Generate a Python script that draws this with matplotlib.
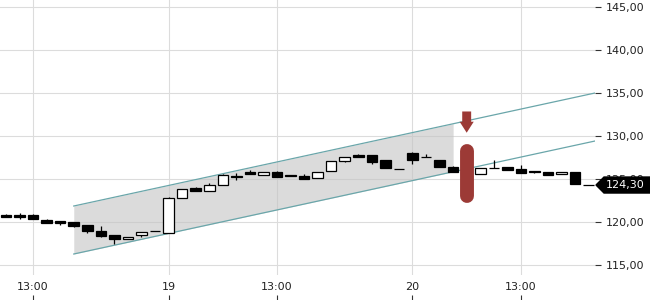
import matplotlib
matplotlib.use("Agg")
import matplotlib.pyplot as plt
from matplotlib.patches import Polygon
import numpy as np

# ---- data ----
opens = [120.85, 120.8, 120.85, 120.2, 120.1, 119.95, 119.65, 118.95, 118.5, 118.0,
         118.5, 118.9, 118.7, 122.75, 124.0, 123.6, 124.3, 125.4, 125.85, 125.5,
         125.8, 125.5, 125.4, 125.1, 125.95, 127.1, 127.75, 127.8, 127.2, 126.15,
         128.0, 127.55, 127.2, 126.4, 125.85, 125.6, 126.25, 126.4, 126.15, 125.95,
         125.8, 125.55, 125.8, 124.3]
highs = [120.9, 121.0, 120.9, 120.35, 120.1, 119.95, 119.65, 119.5, 118.5, 118.25,
         118.8, 118.9, 122.85, 123.85, 124.1, 124.57, 125.6, 125.65, 126.05, 125.8,
         125.9, 125.5, 125.55, 125.8, 127.1, 127.5, 127.9, 127.8, 127.2, 126.15,
         128.1, 127.85, 127.2, 126.5, 125.85, 126.25, 127.25, 126.4, 126.65, 125.95,
         125.8, 125.8, 125.8, 124.3]
lows = [120.55, 120.4, 120.3, 119.9, 119.7, 119.45, 118.75, 118.2, 117.4, 118.0,
        118.3, 118.9, 118.7, 122.75, 123.55, 123.6, 124.3, 124.9, 125.55, 125.5,
        125.2, 125.35, 125.0, 125.1, 125.95, 126.95, 127.6, 126.75, 126.25, 126.15,
        126.8, 127.5, 126.4, 125.8, 125.45, 125.6, 126.25, 126.1, 125.75, 125.75,
        125.45, 125.55, 124.4, 124.3]
closes = [120.6, 120.6, 120.3, 119.9, 119.9, 119.55, 118.9, 118.4, 118.0, 118.25,
          118.8, 118.9, 122.75, 123.85, 123.6, 124.3, 125.45, 125.2, 125.55, 125.8,
          125.2, 125.35, 125.0, 125.8, 127.1, 127.5, 127.6, 127.0, 126.25, 126.15,
          127.2, 127.5, 126.4, 125.8, 125.45, 126.25, 126.25, 126.1, 125.75, 125.85,
          125.45, 125.8, 124.4, 124.3]

xtick_pos = [2, 12, 20, 30, 38]
xtick_labels = ["13:00", "19", "13:00", "20", "13:00"]
ytick_vals = [115, 120, 125, 130, 135, 140, 145]

# trend channel
channel_start = 5
channel_fill_end = 33
channel_upper_start = 121.86
channel_lower_start = 116.28
channel_slope = 0.3415

# signal marker
signal_idx = 34
signal_bar = [128.25, 122.98]
arrow_levels = [132.85, 131.66, 130.38]  # shaft top, head base, tip

last_price = 124.30

# ---- figure ----
W, H = 650, 300
fig = plt.figure(figsize=(6.5, 3.0), dpi=100)
ax = fig.add_axes([0, 25 / H, 595 / W, 275 / H])
xlim = (-0.443, 43.47)
ax.set_xlim(*xlim)
ax.set_ylim(113.84, 145.81)

for s in ax.spines.values():
    s.set_visible(False)

ax.grid(True, color="#dcdcdc", lw=0.8, zorder=0)
ax.set_axisbelow(True)

# channel
xs = np.array([channel_start, xlim[1]])
up = channel_upper_start + channel_slope * (xs - channel_start)
lo = channel_lower_start + channel_slope * (xs - channel_start)
xf = np.array([channel_start, channel_fill_end])
ax.fill_between(xf, channel_upper_start + channel_slope * (xf - channel_start),
                channel_lower_start + channel_slope * (xf - channel_start),
                color="#c4c4c4", alpha=0.6, lw=0, zorder=1)
ax.plot(xs, up, color="#6aa6aa", lw=0.9, zorder=2)
ax.plot(xs, lo, color="#6aa6aa", lw=0.9, zorder=2)

# candles
x = np.arange(len(opens))
o = np.array(opens); c = np.array(closes)
hi = np.array(highs); lw_ = np.array(lows)
ax.vlines(x, lw_, hi, color="black", lw=0.9, zorder=3)
upc = c >= o
ax.bar(x[upc], (c - o)[upc], bottom=o[upc], width=0.78, color="white",
       edgecolor="black", lw=0.9, zorder=4)
ax.bar(x[~upc], (c - o)[~upc], bottom=o[~upc], width=0.78, color="black",
       edgecolor="black", lw=0.9, zorder=4)

# signal marker
red = "#9c3a36"
ax.plot([signal_idx, signal_idx], signal_bar, color=red, lw=10,
        solid_capstyle="round", zorder=5)
sw, hw = 0.33, 0.52
st, hb, tip = arrow_levels
arrow = Polygon([(signal_idx - sw, st), (signal_idx + sw, st), (signal_idx + sw, hb),
                 (signal_idx + hw, hb), (signal_idx, tip), (signal_idx - hw, hb),
                 (signal_idx - sw, hb)], closed=True, color=red, lw=0, zorder=5)
ax.add_patch(arrow)

# axes ticks
ax.set_xticks(xtick_pos)
ax.set_xticklabels(xtick_labels)
ax.tick_params(axis="x", length=0, pad=5, labelsize=8, labelcolor="#222222")
ax.yaxis.tick_right()
ax.set_yticks(ytick_vals)
ax.set_yticklabels([f"{v:.2f}".replace(".", ",") for v in ytick_vals])
ax.tick_params(axis="y", direction="out", length=4, width=0.8, pad=4,
               labelsize=8, labelcolor="#222222", color="#333333")

# last price label
tr = ax.get_yaxis_transform()
dy = 8 / 8.6
x0 = 596 / 595
x1 = 604 / 595
x2 = 655 / 595
lab = Polygon([(x0, last_price), (x1, last_price + dy), (x2, last_price + dy),
               (x2, last_price - dy), (x1, last_price - dy)], closed=True,
              transform=tr, color="black", clip_on=False, zorder=20)
ax.add_patch(lab)
ax.text(606 / 595, last_price, f"{last_price:.2f}".replace(".", ","),
        transform=tr, color="white", fontsize=8, va="center", ha="left",
        zorder=21, clip_on=False)

# bottom tick marks
ax2 = fig.add_axes([0, 0, 595 / W, 6 / H])
ax2.set_xlim(*xlim)
ax2.set_ylim(0, 1)
ax2.patch.set_visible(False)
for s in ax2.spines.values():
    s.set_visible(False)
ax2.set_yticks([])
ax2.set_xticks(xtick_pos)
ax2.tick_params(axis="x", direction="in", length=3.5, width=0.8,
                labelbottom=False, color="#333333")

fig.savefig("out.png", dpi=100)
